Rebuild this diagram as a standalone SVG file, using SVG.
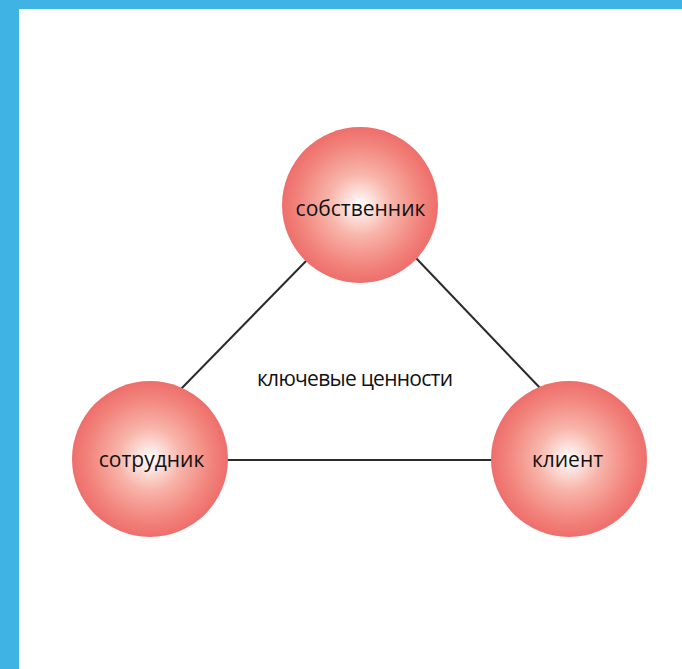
<svg xmlns="http://www.w3.org/2000/svg" width="682" height="669" viewBox="0 0 682 669">
<defs>
<radialGradient id="g" cx="50%" cy="50%" r="50%">
<stop offset="0" stop-color="#ffffff"/>
<stop offset="0.4" stop-color="#f8b5aa"/>
<stop offset="0.78" stop-color="#f2857d"/>
<stop offset="1" stop-color="#ee6e6b"/>
</radialGradient>
<style>
.n{fill:url(#g)}
.t{font-family:"Open Sans","Noto Sans",sans-serif;font-size:21px;font-weight:500;fill:#111111;text-anchor:middle}
.c line{stroke:#2b2b2b;stroke-width:2}
</style>
</defs>
<rect x="0" y="0" width="682" height="669" fill="#ffffff"/>
<rect x="0" y="0" width="682" height="9" fill="#3fb3e3"/>
<rect x="0" y="0" width="19" height="669" fill="#3fb3e3"/>
<g class="c" id="connectors">
<line x1="308" y1="259" x2="180" y2="390"/>
<line x1="415" y1="257" x2="541" y2="389"/>
<line x1="226" y1="460" x2="494" y2="460"/>
</g>
<g id="owner"><circle class="n" cx="360" cy="205" r="78"/><text class="t" x="360.5" y="216">собственник</text></g>
<g id="employee"><circle class="n" cx="150" cy="459" r="78"/><text class="t" x="151.5" y="467">сотрудник</text></g>
<g id="client"><circle class="n" cx="569" cy="459" r="78"/><text class="t" x="567.5" y="467">клиент</text></g>
<g id="center"><text class="t" x="355" y="386" textLength="196">ключевые ценности</text></g>
</svg>
